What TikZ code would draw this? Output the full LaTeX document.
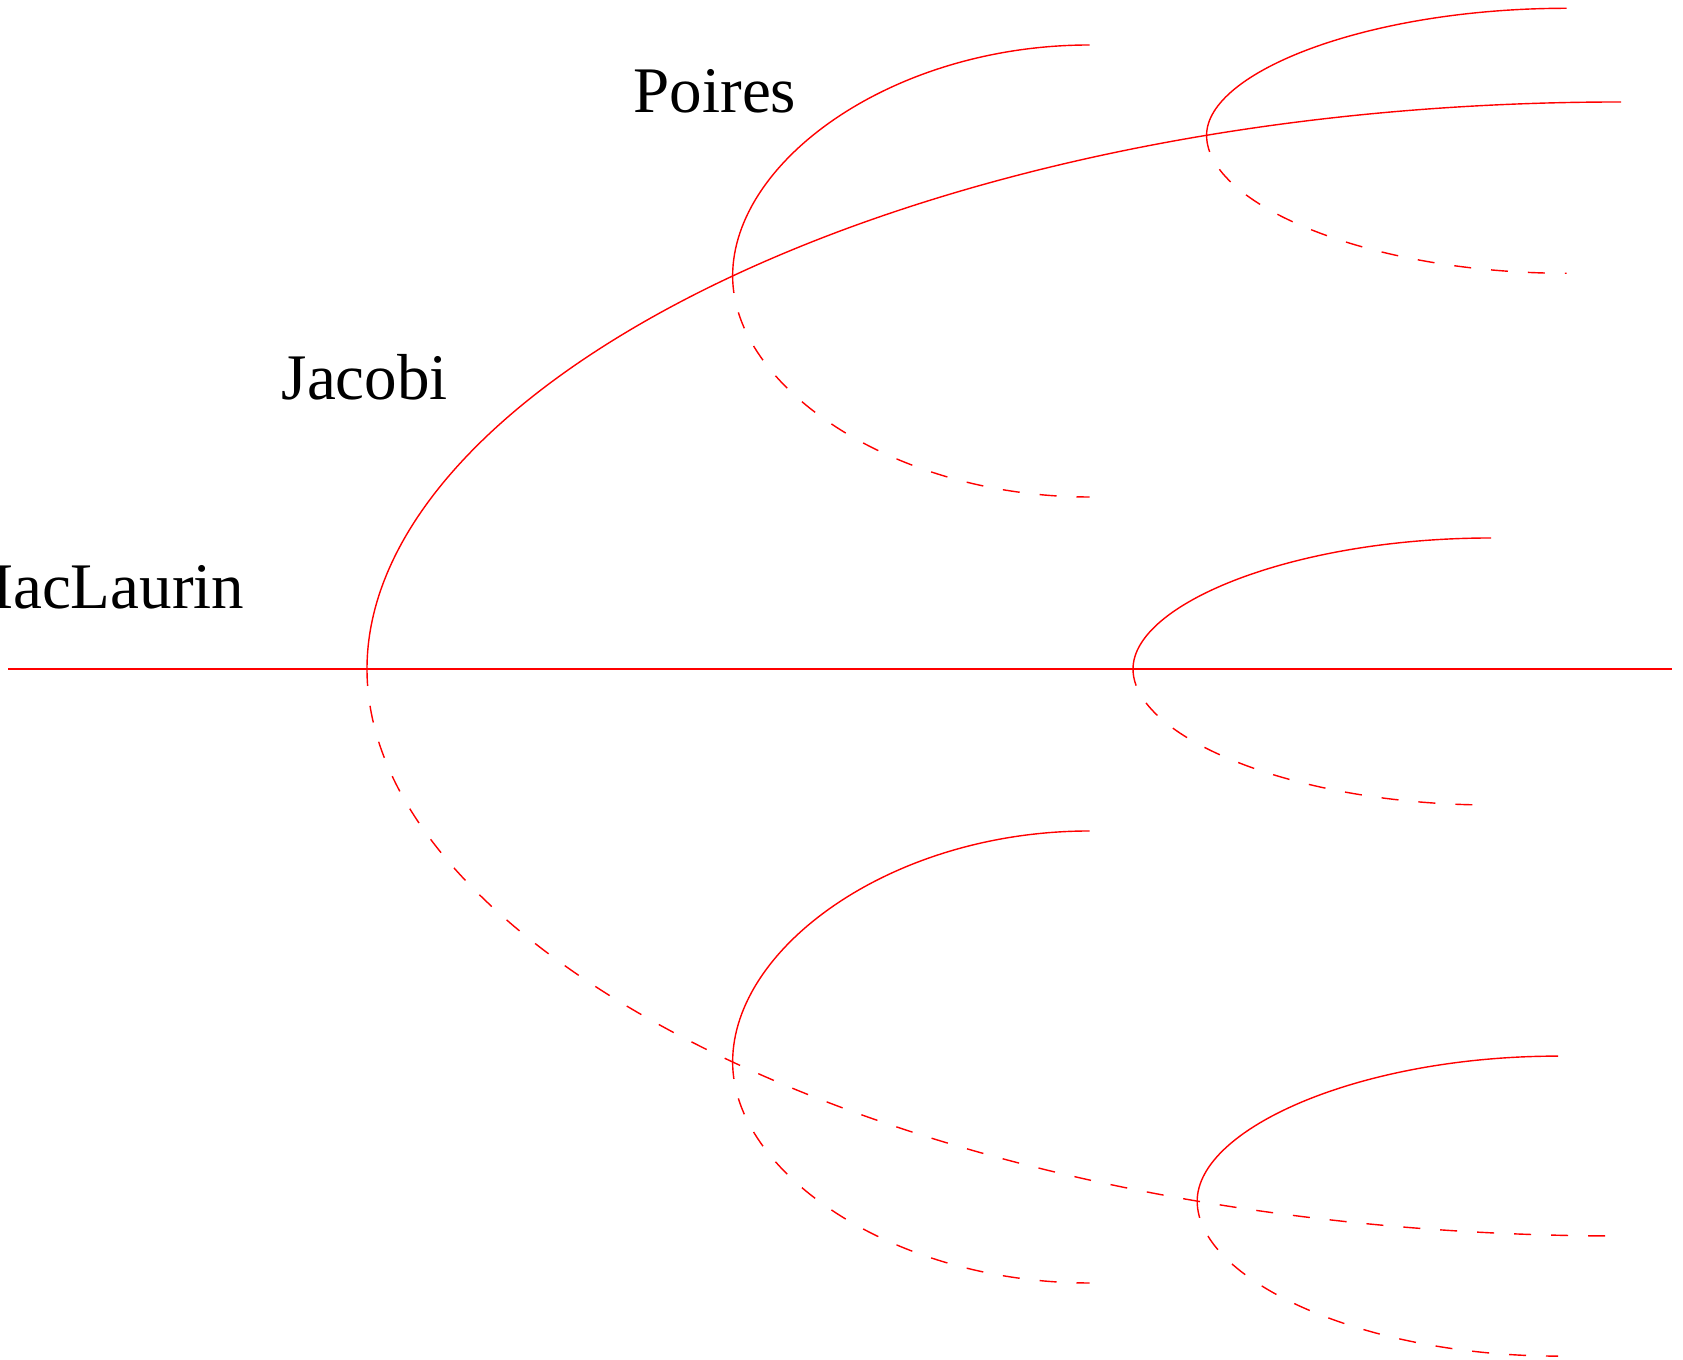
\documentclass[tikz,border=0pt]{standalone}
\usepackage{fontspec}
\setmainfont{Liberation Serif}
\usetikzlibrary{calc}

% one fork: stable upper half, unstable lower half
\newcommand{\branche}[4]{%
  \draw[stable] (#1) .. controls ($(#1)+(0,#3/2)$) and ($(#1)+(0.45*#2,#3)$) .. ($(#1)+(#2,#3)$);
  \draw[unstable] (#1) .. controls ($(#1)+(0,-#4/2)$) and ($(#1)+(0.45*#2,-#4)$) .. ($(#1)+(#2,-#4)$);
}

\begin{document}
\begin{tikzpicture}[
    every node/.style={font=\fontsize{18.5}{22}\selectfont, inner sep=0pt},
    stable/.style={draw=red, line width=0.4pt},
    unstable/.style={stable, dash pattern=on 1.7mm off 2mm},
]
\useasboundingbox (0,0) rectangle (16.83,13.60);

% MacLaurin
\coordinate (m0) at (0.08,6.91);
\coordinate (mac) at (3.67,6.91);
\coordinate (m1) at (16.72,6.91);
\draw[stable] (m0) -- (m1);
\node[anchor=base east] (maclaurin) at (2.45,7.51) {MacLaurin};

% Jacobi
\draw[stable] (mac) .. controls (3.67,9.745) and (9.06,12.58) .. (16.21,12.58)
    coordinate[pos=.505] (jac1) coordinate[pos=.795] (jac2);
\draw[unstable] (mac) .. controls (3.67,4.075) and (9.06,1.24) .. (16.21,1.24)
    coordinate[pos=.505] (jac3) coordinate[pos=.79] (jac4);
\node[anchor=base west] (jacobi) at (2.81,9.60) {Jacobi};

% Poires
\branche{jac1}{3.57}{2.31}{2.21}
\branche{jac3}{3.57}{2.31}{2.21}
\node[anchor=base west] (poires) at (6.33,12.47) {Poires};

% further forks
\coordinate (mac2) at (11.33,6.91);
\branche{mac2}{3.58}{1.31}{1.36}
\branche{jac2}{3.60}{1.27}{1.38}
\branche{jac4}{3.61}{1.45}{1.55}

\end{tikzpicture}
\end{document}
